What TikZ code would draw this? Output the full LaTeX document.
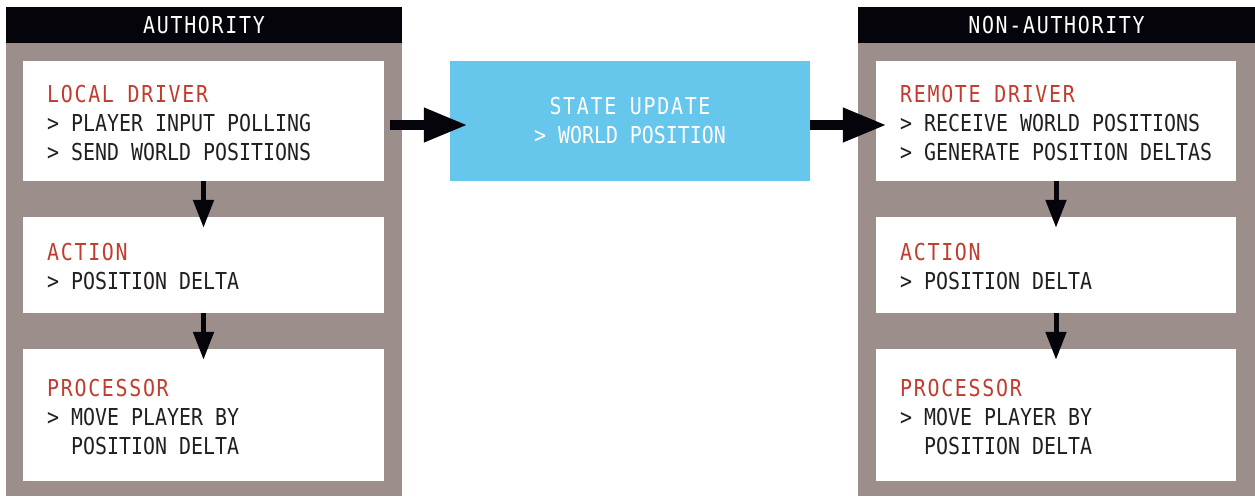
\documentclass[tikz,border=0pt]{standalone}
\usepackage{fontspec}
\usetikzlibrary{arrows.meta}
\newfontfamily\monobody{DejaVu Sans Mono}[FakeStretch=0.855]
\newfontfamily\monocaps{DejaVu Sans Mono}[FakeStretch=0.855,LetterSpace=7.3]
\newcommand\boxfont{\monobody\fontsize{23.3}{29}\selectfont}
\newcommand\capfont{\monocaps\fontsize{23.3}{29}\selectfont}
\newcommand\ttl[1]{{\capfont\color{titlered}#1}}
\definecolor{panelgray}{HTML}{9C8E8A}
\definecolor{headblack}{HTML}{05040A}
\definecolor{titlered}{HTML}{C23B2E}
\definecolor{inkdark}{HTML}{231F20}
\definecolor{stateblue}{HTML}{66C6EC}
\begin{document}
\begin{tikzpicture}[x=1pt,y=-1pt,
panel/.style={fill=panelgray,inner sep=0pt,minimum width=396pt,minimum height=453pt},
head/.style={fill=headblack,text=white,inner sep=0pt,minimum width=396pt,minimum height=36pt,font=\capfont},
box/.style={fill=white,inner sep=0pt,minimum width=361pt},
txt/.style={align=left,inner sep=0pt,anchor=base west,font=\boxfont,text=inkdark},
bigarrow/.style={draw=headblack,line width=10pt,-{Triangle[length=44pt,width=32pt]}},
downarrow/.style={draw=headblack,line width=5pt,-{Triangle[length=28pt,width=20pt]}}]
\useasboundingbox (0,0) rectangle (1255,496);
% authority side
\node[panel] (auth) at (204,269.5) {};
\node[head] (authhead) at (204,25) {AUTHORITY};
\node[box,minimum height=120pt] (ld) at (203.5,121) {};
\node[box,minimum height=96pt] (la) at (203.5,265) {};
\node[box,minimum height=132pt] (lp) at (203.5,415) {};
\node[txt] (ldtext) at (47,160) {\ttl{LOCAL DRIVER}\\> PLAYER INPUT POLLING\\> SEND WORLD POSITIONS};
\node[txt] (latext) at (47,289) {\ttl{ACTION}\\> POSITION DELTA};
\node[txt] (lptext) at (47,454) {\ttl{PROCESSOR}\\> MOVE PLAYER BY\\\phantom{> }POSITION DELTA};
% state update
\node[box,fill=stateblue,minimum width=360pt,minimum height=120pt,align=center,font=\boxfont,text=white]
  (su) at (630,121) {{\capfont STATE UPDATE}\\> WORLD POSITION};
% non-authority side
\node[panel,minimum width=397pt] (nauth) at (1056.5,269.5) {};
\node[head,minimum width=397pt] (nauthhead) at (1056.5,25) {NON-AUTHORITY};
\node[box,minimum width=360pt,minimum height=120pt] (rd) at (1056,121) {};
\node[box,minimum width=360pt,minimum height=96pt] (ra) at (1056,265) {};
\node[box,minimum width=360pt,minimum height=132pt] (rp) at (1056,415) {};
\node[txt] (rdtext) at (900,160) {\ttl{REMOTE DRIVER}\\> RECEIVE WORLD POSITIONS\\> GENERATE POSITION DELTAS};
\node[txt] (ratext) at (900,289) {\ttl{ACTION}\\> POSITION DELTA};
\node[txt] (rptext) at (900,454) {\ttl{PROCESSOR}\\> MOVE PLAYER BY\\\phantom{> }POSITION DELTA};
% arrows
\draw[bigarrow] ([xshift=6pt,yshift=-4pt]ld.east) -- ([xshift=18pt,yshift=-4pt]su.west);
\draw[bigarrow] ([yshift=-4pt]su.east) -- ([xshift=11pt,yshift=-4pt]rd.west);
\draw[downarrow] (ld.south) -- ([yshift=-11pt]la.north);
\draw[downarrow] (la.south) -- ([yshift=-11pt]lp.north);
\draw[downarrow] (rd.south) -- ([yshift=-11pt]ra.north);
\draw[downarrow] (ra.south) -- ([yshift=-11pt]rp.north);
\end{tikzpicture}
\end{document}
